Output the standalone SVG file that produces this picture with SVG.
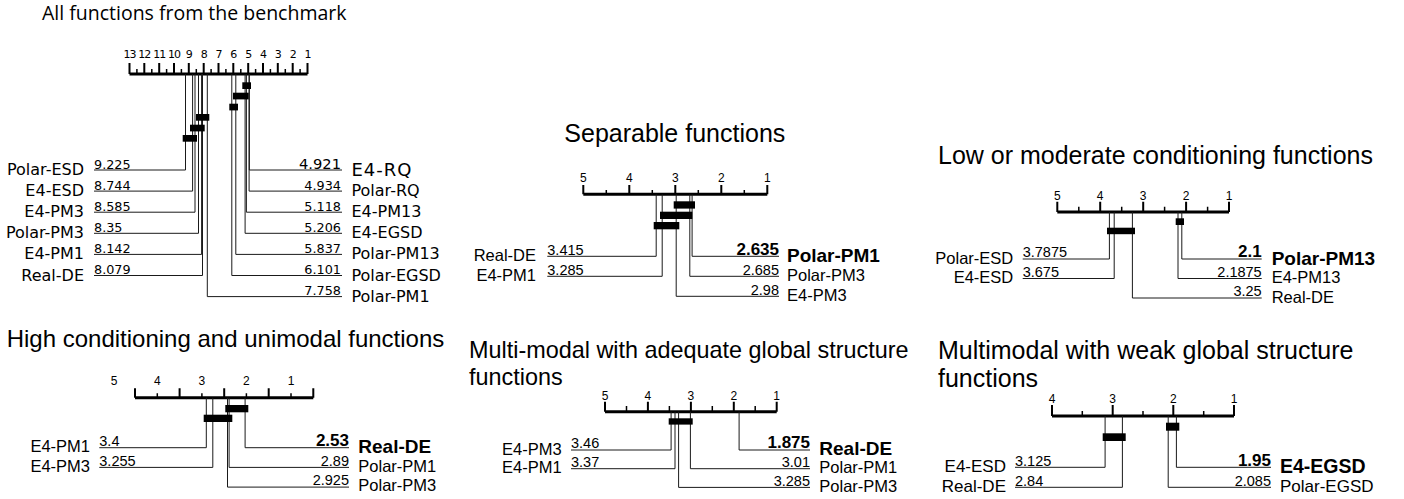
<svg xmlns="http://www.w3.org/2000/svg" width="1404" height="499" viewBox="0 0 1404 499">
<style>
text{fill:#000}
.ttl{font-family:"Liberation Sans",Arial,sans-serif;font-size:25px}
.ttl1{font-family:"Open Sans","Noto Sans",sans-serif;font-size:19.5px}
.ax{stroke:#000;stroke-width:3;fill:none}
.tk{stroke:#000;stroke-width:2}
.tm{stroke:#000;stroke-width:1.5}
.ln{stroke:#1a1a1a;stroke-width:1;fill:none}
.bar{fill:#000}
.tl{font-family:"Liberation Sans",Arial,sans-serif;font-size:12px;text-anchor:middle}
.lab{font-family:"Liberation Sans",Arial,sans-serif;font-size:16.5px}
.num{font-family:"Liberation Sans",Arial,sans-serif;font-size:14.5px}
.blab{font-family:"Liberation Sans",Arial,sans-serif;font-size:19px;font-weight:bold}
.bnum{font-family:"Liberation Sans",Arial,sans-serif;font-size:17px;font-weight:bold}
.e{text-anchor:end}
.dtl{font-family:"DejaVu Sans",sans-serif;font-size:11px;text-anchor:middle;letter-spacing:-1px}
.dlab{font-family:"DejaVu Sans",sans-serif;font-size:16px}
.dnum{font-family:"DejaVu Sans",sans-serif;font-size:12.8px}
.dblab{font-family:"DejaVu Sans",sans-serif;font-size:18px;letter-spacing:1px}
.dbnum{font-family:"DejaVu Sans",sans-serif;font-size:14.7px}
</style>

<!-- Chart 1: All functions -->
<g id="chart-all">
  <text class="ttl1" x="42" y="20">All functions from the benchmark</text>
  <g id="chart-all-axis">
    <line class="ax" x1="129.5" y1="74" x2="307.5" y2="74"/>
    <path class="tk" d="M129.5,63V74M144.3,63V74M159.2,63V74M174,63V74M188.8,63V74M203.7,63V74M218.5,63V74M233.3,63V74M248.2,63V74M263,63V74M277.8,63V74M292.7,63V74M307.5,63V74"/>
    <path class="tm" d="M136.9,69V74M151.8,69V74M166.6,69V74M181.4,69V74M196.3,69V74M211.1,69V74M225.9,69V74M240.8,69V74M255.6,69V74M270.4,69V74M285.3,69V74M300.1,69V74"/>
    <text class="dtl" x="129.5" y="58">13</text>
    <text class="dtl" x="144.3" y="58">12</text>
    <text class="dtl" x="159.2" y="58">11</text>
    <text class="dtl" x="174" y="58">10</text>
    <text class="dtl" x="188.8" y="58">9</text>
    <text class="dtl" x="203.7" y="58">8</text>
    <text class="dtl" x="218.5" y="58">7</text>
    <text class="dtl" x="233.3" y="58">6</text>
    <text class="dtl" x="248.2" y="58">5</text>
    <text class="dtl" x="263" y="58">4</text>
    <text class="dtl" x="277.8" y="58">3</text>
    <text class="dtl" x="292.7" y="58">2</text>
    <text class="dtl" x="307.5" y="58">1</text>
  </g>
  <g id="chart-all-connectors">
    <polyline class="ln" points="185.5,74 185.5,170 94,170"/>
    <polyline class="ln" points="192.6,74 192.6,191.1 94,191.1"/>
    <polyline class="ln" points="195,74 195,212.2 94,212.2"/>
    <polyline class="ln" points="198.5,74 198.5,233.3 94,233.3"/>
    <polyline class="ln" points="201.6,74 201.6,254.4 94,254.4"/>
    <polyline class="ln" points="202.5,74 202.5,275.5 94,275.5"/>
    <polyline class="ln" points="249.3,74 249.3,170 342,170"/>
    <polyline class="ln" points="249.1,74 249.1,191.1 342,191.1"/>
    <polyline class="ln" points="246.4,74 246.4,212.2 342,212.2"/>
    <polyline class="ln" points="245.1,74 245.1,233.3 342,233.3"/>
    <polyline class="ln" points="235.8,74 235.8,254.4 342,254.4"/>
    <polyline class="ln" points="231.8,74 231.8,275.5 342,275.5"/>
    <polyline class="ln" points="207.3,74 207.3,296.6 342,296.6"/>
  </g>
  <g id="chart-all-bars">
    <rect class="bar" x="242.3" y="82.3" width="8.7" height="6.7"/>
    <rect class="bar" x="233" y="92.7" width="15.7" height="6.7"/>
    <rect class="bar" x="229.3" y="103.7" width="8.7" height="6.7"/>
    <rect class="bar" x="196" y="114" width="13.3" height="6.7"/>
    <rect class="bar" x="190" y="124.7" width="14.7" height="6.7"/>
    <rect class="bar" x="182.7" y="135" width="14.3" height="6.7"/>
  </g>
  <g id="chart-all-labels">
    <text class="dlab e" x="84" y="175">Polar-ESD</text>
    <text class="dlab e" x="84" y="196.1">E4-ESD</text>
    <text class="dlab e" x="84" y="217.2">E4-PM3</text>
    <text class="dlab e" x="84" y="238.3">Polar-PM3</text>
    <text class="dlab e" x="84" y="259.4">E4-PM1</text>
    <text class="dlab e" x="84" y="280.5">Real-DE</text>
    <text class="dnum" x="94" y="168.5">9.225</text>
    <text class="dnum" x="94" y="189.6">8.744</text>
    <text class="dnum" x="94" y="210.7">8.585</text>
    <text class="dnum" x="94" y="231.8">8.35</text>
    <text class="dnum" x="94" y="252.9">8.142</text>
    <text class="dnum" x="94" y="274">8.079</text>
    <text class="dbnum e" x="341" y="168.5">4.921</text>
    <text class="dnum e" x="341" y="189.6">4.934</text>
    <text class="dnum e" x="341" y="210.7">5.118</text>
    <text class="dnum e" x="341" y="231.8">5.206</text>
    <text class="dnum e" x="341" y="252.9">5.837</text>
    <text class="dnum e" x="341" y="274">6.101</text>
    <text class="dnum e" x="341" y="295.1">7.758</text>
    <text class="dblab" x="351.5" y="175.5">E4-RQ</text>
    <text class="dlab" x="351.5" y="196.1">Polar-RQ</text>
    <text class="dlab" x="351.5" y="217.2">E4-PM13</text>
    <text class="dlab" x="351.5" y="238.3">E4-EGSD</text>
    <text class="dlab" x="351.5" y="259.4">Polar-PM13</text>
    <text class="dlab" x="351.5" y="280.5">Polar-EGSD</text>
    <text class="dlab" x="351.5" y="301.6">Polar-PM1</text>
  </g>
</g>

<!-- Chart 2: Separable -->
<g id="chart-separable">
  <text class="ttl" x="564.3" y="142.3">Separable functions</text>
  <g id="chart-separable-axis">
    <line class="ax" x1="583.3" y1="194.3" x2="767.3" y2="194.3"/>
    <path class="tk" d="M583.3,185V194.3M629.3,185V194.3M675.3,185V194.3M721.3,185V194.3M767.3,185V194.3"/>
    <path class="tm" d="M606.3,190V194.3M652.3,190V194.3M698.3,190V194.3M744.3,190V194.3"/>
    <text class="tl" x="583.3" y="182">5</text>
    <text class="tl" x="629.3" y="182">4</text>
    <text class="tl" x="675.3" y="182">3</text>
    <text class="tl" x="721.3" y="182">2</text>
    <text class="tl" x="767.3" y="182">1</text>
  </g>
  <g id="chart-separable-connectors">
    <polyline class="ln" points="656.2,194.3 656.2,256.3 547.3,256.3"/>
    <polyline class="ln" points="662.2,194.3 662.2,276.3 547.3,276.3"/>
    <polyline class="ln" points="692.1,194.3 692.1,256.3 779,256.3"/>
    <polyline class="ln" points="689.8,194.3 689.8,276.3 779,276.3"/>
    <polyline class="ln" points="676.2,194.3 676.2,296.3 779,296.3"/>
  </g>
  <g id="chart-separable-bars">
    <rect class="bar" x="673.7" y="201.3" width="21.3" height="7.3"/>
    <rect class="bar" x="660" y="211.7" width="32.3" height="7.3"/>
    <rect class="bar" x="653.7" y="222" width="25.6" height="7.3"/>
  </g>
  <g id="chart-separable-labels">
    <text class="lab e" x="536" y="261">Real-DE</text>
    <text class="lab e" x="536" y="281">E4-PM1</text>
    <text class="num" x="547.3" y="254.5">3.415</text>
    <text class="num" x="547.3" y="274.5">3.285</text>
    <text class="bnum e" x="779" y="254.5">2.635</text>
    <text class="num e" x="779" y="274.5">2.685</text>
    <text class="num e" x="779" y="294.5">2.98</text>
    <text class="blab" x="787" y="262">Polar-PM1</text>
    <text class="lab" x="787" y="281">Polar-PM3</text>
    <text class="lab" x="787" y="301">E4-PM3</text>
  </g>
</g>

<!-- Chart 3: Low or moderate conditioning -->
<g id="chart-lowcond">
  <text class="ttl" x="938" y="164">Low or moderate conditioning functions</text>
  <g id="chart-lowcond-axis">
    <line class="ax" x1="1057.3" y1="212" x2="1229" y2="212"/>
    <path class="tk" d="M1057.3,201.7V212M1100.2,201.7V212M1143.2,201.7V212M1186.1,201.7V212M1229,201.7V212"/>
    <path class="tm" d="M1078.8,206.7V212M1121.7,206.7V212M1164.6,206.7V212M1207.6,206.7V212"/>
    <text class="tl" x="1057.3" y="200">5</text>
    <text class="tl" x="1100.2" y="200">4</text>
    <text class="tl" x="1143.2" y="200">3</text>
    <text class="tl" x="1186.1" y="200">2</text>
    <text class="tl" x="1229" y="200">1</text>
  </g>
  <g id="chart-lowcond-connectors">
    <polyline class="ln" points="1109.4,212 1109.4,259 1022.7,259"/>
    <polyline class="ln" points="1114.2,212 1114.2,278.5 1022.7,278.5"/>
    <polyline class="ln" points="1181.8,212 1181.8,259 1261.7,259"/>
    <polyline class="ln" points="1178,212 1178,278.5 1261.7,278.5"/>
    <polyline class="ln" points="1132.4,212 1132.4,298 1261.7,298"/>
  </g>
  <g id="chart-lowcond-bars">
    <rect class="bar" x="1175.7" y="218.3" width="8.3" height="6.7"/>
    <rect class="bar" x="1107" y="227.7" width="28" height="6.5"/>
  </g>
  <g id="chart-lowcond-labels">
    <text class="lab e" x="1013.3" y="263.5">Polar-ESD</text>
    <text class="lab e" x="1013.3" y="283">E4-ESD</text>
    <text class="num" x="1022.7" y="257.3">3.7875</text>
    <text class="num" x="1022.7" y="276.8">3.675</text>
    <text class="bnum e" x="1261.7" y="257.3">2.1</text>
    <text class="num e" x="1261.7" y="276.8">2.1875</text>
    <text class="num e" x="1261.7" y="296.3">3.25</text>
    <text class="blab" x="1271.7" y="264.5">Polar-PM13</text>
    <text class="lab" x="1271.7" y="283">E4-PM13</text>
    <text class="lab" x="1271.7" y="302.5">Real-DE</text>
  </g>
</g>

<!-- Chart 4: High conditioning -->
<g id="chart-highcond">
  <text class="ttl" x="6.7" y="347" style="font-size:24px">High conditioning and unimodal functions</text>
  <g id="chart-highcond-axis">
    <line class="ax" x1="135" y1="397.7" x2="313.3" y2="397.7"/>
    <path class="tk" d="M135,388.3V397.7M179.6,388.3V397.7M224.2,388.3V397.7M268.7,388.3V397.7M313.3,388.3V397.7"/>
    <path class="tm" d="M157.3,393.3V397.7M201.9,393.3V397.7M246.4,393.3V397.7M291,393.3V397.7"/>
    <text class="tl" x="114" y="385">5</text>
    <text class="tl" x="157.3" y="385">4</text>
    <text class="tl" x="201.9" y="385">3</text>
    <text class="tl" x="246.4" y="385">2</text>
    <text class="tl" x="291" y="385">1</text>
  </g>
  <g id="chart-highcond-connectors">
    <polyline class="ln" points="206.3,397.7 206.3,447.7 99.3,447.7"/>
    <polyline class="ln" points="212.8,397.7 212.8,467.4 99.3,467.4"/>
    <polyline class="ln" points="245.1,397.7 245.1,447.7 349,447.7"/>
    <polyline class="ln" points="229.1,397.7 229.1,467.4 349,467.4"/>
    <polyline class="ln" points="227.5,397.7 227.5,487.1 349,487.1"/>
  </g>
  <g id="chart-highcond-bars">
    <rect class="bar" x="225.3" y="405" width="23" height="7.3"/>
    <rect class="bar" x="203.7" y="414.7" width="28.6" height="7.3"/>
  </g>
  <g id="chart-highcond-labels">
    <text class="lab e" x="90" y="452">E4-PM1</text>
    <text class="lab e" x="90" y="471.7">E4-PM3</text>
    <text class="num" x="99.3" y="446">3.4</text>
    <text class="num" x="99.3" y="465.7">3.255</text>
    <text class="bnum e" x="349" y="446">2.53</text>
    <text class="num e" x="349" y="465.7">2.89</text>
    <text class="num e" x="349" y="485.4">2.925</text>
    <text class="blab" x="358.3" y="452.5">Real-DE</text>
    <text class="lab" x="358.3" y="471.7">Polar-PM1</text>
    <text class="lab" x="358.3" y="491.4">Polar-PM3</text>
  </g>
</g>

<!-- Chart 5: Multi-modal adequate -->
<g id="chart-mm-adequate">
  <text class="ttl" x="469" y="358.3" style="font-size:23.4px"><tspan x="469" y="358.3">Multi-modal with adequate global structure</tspan><tspan x="469" y="384.8">functions</tspan></text>
  <g id="chart-mm-adequate-axis">
    <line class="ax" x1="605" y1="411.7" x2="776.7" y2="411.7"/>
    <path class="tk" d="M605,401.7V411.7M647.9,401.7V411.7M690.9,401.7V411.7M733.8,401.7V411.7M776.7,401.7V411.7"/>
    <path class="tm" d="M626.5,406V411.7M669.4,406V411.7M712.3,406V411.7M755.2,406V411.7"/>
    <text class="tl" x="605" y="400">5</text>
    <text class="tl" x="647.9" y="400">4</text>
    <text class="tl" x="690.9" y="400">3</text>
    <text class="tl" x="733.8" y="400">2</text>
    <text class="tl" x="776.7" y="400">1</text>
  </g>
  <g id="chart-mm-adequate-connectors">
    <polyline class="ln" points="671.1,411.7 671.1,450 571,450"/>
    <polyline class="ln" points="675,411.7 675,468.7 571,468.7"/>
    <polyline class="ln" points="739.1,411.7 739.1,450 810,450"/>
    <polyline class="ln" points="690.4,411.7 690.4,468.7 810,468.7"/>
    <polyline class="ln" points="678.6,411.7 678.6,487.4 810,487.4"/>
  </g>
  <g id="chart-mm-adequate-bars">
    <rect class="bar" x="668.7" y="418.3" width="24" height="6.3"/>
  </g>
  <g id="chart-mm-adequate-labels">
    <text class="lab e" x="561.7" y="454.5">E4-PM3</text>
    <text class="lab e" x="561.7" y="473.2">E4-PM1</text>
    <text class="num" x="571" y="448.3">3.46</text>
    <text class="num" x="571" y="467">3.37</text>
    <text class="bnum e" x="810" y="448.3">1.875</text>
    <text class="num e" x="810" y="467">3.01</text>
    <text class="num e" x="810" y="485.7">3.285</text>
    <text class="blab" x="819.3" y="455">Real-DE</text>
    <text class="lab" x="819.3" y="473.2">Polar-PM1</text>
    <text class="lab" x="819.3" y="491.9">Polar-PM3</text>
  </g>
</g>

<!-- Chart 6: Multimodal weak -->
<g id="chart-mm-weak">
  <text class="ttl" x="938" y="358.6"><tspan x="938" y="358.6">Multimodal with weak global structure</tspan><tspan x="938" y="386.7">functions</tspan></text>
  <g id="chart-mm-weak-axis">
    <line class="ax" x1="1052" y1="416" x2="1234" y2="416"/>
    <path class="tk" d="M1052,405V416M1112.7,405V416M1173.3,405V416M1234,405V416"/>
    <path class="tm" d="M1082.3,411V416M1143,411V416M1203.7,411V416"/>
    <text class="tl" x="1052" y="403">4</text>
    <text class="tl" x="1112.7" y="403">3</text>
    <text class="tl" x="1173.3" y="403">2</text>
    <text class="tl" x="1234" y="403">1</text>
  </g>
  <g id="chart-mm-weak-connectors">
    <polyline class="ln" points="1105.1,416 1105.1,467.3 1015,467.3"/>
    <polyline class="ln" points="1122.4,416 1122.4,487.3 1015,487.3"/>
    <polyline class="ln" points="1176.4,416 1176.4,467.3 1271,467.3"/>
    <polyline class="ln" points="1168.2,416 1168.2,487.3 1271,487.3"/>
  </g>
  <g id="chart-mm-weak-bars">
    <rect class="bar" x="1166" y="422.7" width="13.3" height="8"/>
    <rect class="bar" x="1102.7" y="433.3" width="23" height="7.7"/>
  </g>
  <g id="chart-mm-weak-labels">
    <text class="lab e" x="1006" y="472" style="font-size:17px">E4-ESD</text>
    <text class="lab e" x="1006" y="492" style="font-size:17px">Real-DE</text>
    <text class="num" x="1015" y="465.6">3.125</text>
    <text class="num" x="1015" y="485.6">2.84</text>
    <text class="bnum e" x="1271" y="465.6">1.95</text>
    <text class="num e" x="1271" y="485.6">2.085</text>
    <text class="blab" x="1280" y="472.5" style="font-size:19.5px">E4-EGSD</text>
    <text class="lab" x="1280" y="492" style="font-size:17px">Polar-EGSD</text>
  </g>
</g>
</svg>
